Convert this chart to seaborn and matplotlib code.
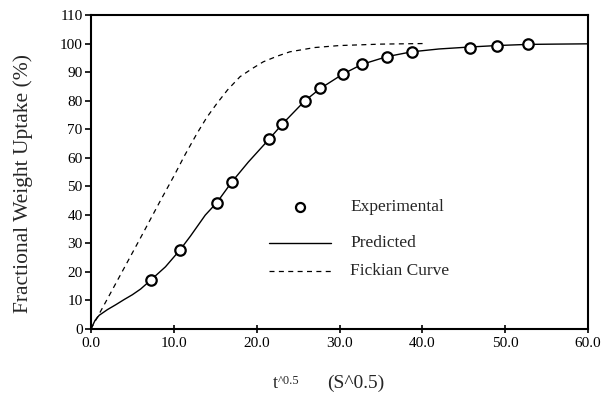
import matplotlib
matplotlib.use("Agg")
import matplotlib.pyplot as plt
import seaborn as sns
import pandas as pd

sns.set_theme(style="ticks")
plt.rcParams['font.family'] = ['Liberation Serif', 'DejaVu Serif']

# Experimental data
exp_x = [7.25, 10.75, 15.2, 17.0, 21.5, 23.1, 25.8, 27.7, 30.4, 32.7, 35.7, 38.7, 45.8, 49.0, 52.7]
exp_y = [17.2, 27.7, 44.0, 51.5, 66.5, 71.8, 79.9, 84.3, 89.3, 92.7, 95.4, 97.1, 98.5, 99.2, 99.8]

# Predicted curve
pred_x = [0, 0.5, 1, 2, 3, 4, 5, 6, 7.25, 9, 10.75, 12, 13.8, 15.2, 17, 19, 21.5, 23.1, 25.8,
          27.7, 30.4, 32.7, 35.7, 38.7, 42, 45.8, 49, 52.7, 56, 60]
pred_y = [0, 3.0, 4.8, 6.8, 8.5, 10.3, 12.0, 14.0, 17.2, 21.8, 27.7, 32.5, 39.9, 44.3, 51.5, 58.5,
          66.5, 71.8, 79.9, 84.3, 89.3, 92.7, 95.4, 97.1, 98.1, 98.8, 99.3, 99.7, 99.8, 99.9]

# Fickian curve
fick_x = [0, 1, 2, 4, 6, 8.3, 10, 11.35, 12.8, 14, 15.2, 16.5, 18, 19.5, 20.8, 22.5, 24, 27, 30, 35, 40.1]
fick_y = [0, 5.3, 10.6, 21.3, 32.0, 44.5, 53.5, 61.0, 68.5, 74.2, 79.0, 83.8, 88.4, 91.3, 93.6, 95.6,
          97.1, 98.6, 99.3, 99.8, 100.0]

x_ticks = [0, 10, 20, 30, 40, 50, 60]
y_ticks = list(range(0, 111, 10))

fig = plt.figure(figsize=(6.02, 4.0), dpi=100)
ax = fig.add_axes([0.151, 0.1775, 0.826, 0.785])

pred_df = pd.DataFrame({"x": pred_x, "y": pred_y})
fick_df = pd.DataFrame({"x": fick_x, "y": fick_y})
exp_df = pd.DataFrame({"x": exp_x, "y": exp_y})

sns.lineplot(data=fick_df, x="x", y="y", ax=ax, color="black", lw=0.9,
             linestyle=(0, (4, 3.5)), sort=False, estimator=None)
sns.lineplot(data=pred_df, x="x", y="y", ax=ax, color="black", lw=1.0,
             sort=False, estimator=None)
ax.plot(exp_x, exp_y, linestyle="none", marker="o", markersize=7.5,
        markerfacecolor="white", markeredgecolor="black", markeredgewidth=1.6, zorder=5)

ax.set_xlim(0, 60)
ax.set_ylim(0, 110)
ax.set_xticks(x_ticks)
ax.set_xticklabels([f"{v:.1f}" for v in x_ticks])
ax.set_yticks(y_ticks)
ax.set_yticklabels([str(v) for v in y_ticks])
ax.tick_params(axis="both", labelsize=11, colors="black", width=1.2, length=4)
ax.tick_params(axis="x", direction="inout", length=6, pad=3)
ax.tick_params(axis="y", direction="out", pad=2)
for s in ax.spines.values():
    s.set_linewidth(1.5)
    s.set_color("black")

ax.set_xlabel("")
ax.set_ylabel("Fractional Weight Uptake (%)", fontsize=15.5)
ax.yaxis.set_label_coords(-0.117, 0.463)

# x label in parts
fig.text(273 / 602, 1 - 383 / 400, "t", fontsize=13, va="center", ha="left")
fig.text(278 / 602, 1 - 381 / 400, "^0.5", fontsize=9, va="center", ha="left")
fig.text(327 / 602, 1 - 383 / 400, "(S^0.5)", fontsize=14, va="center", ha="left")

# Legend (manual, positioned in data coords)
lx0, lx1 = 21.5, 29.0
tx = 31.3
ax.plot([(lx0 + lx1) / 2], [42.7], linestyle="none", marker="o", markersize=6.5,
        markerfacecolor="white", markeredgecolor="black", markeredgewidth=1.6)
ax.text(tx, 42.7, "Experimental", fontsize=12.5, va="center", ha="left")
ax.plot([lx0, lx1], [30.0, 30.0], color="black", lw=1.0)
ax.text(tx, 30.0, "Predicted", fontsize=12.5, va="center", ha="left")
ax.plot([lx0, lx1], [20.3, 20.3], color="black", lw=0.9, linestyle=(0, (4, 3.5)))
ax.text(tx, 20.3, "Fickian Curve", fontsize=12.5, va="center", ha="left")

fig.savefig("out.png", dpi=100)
